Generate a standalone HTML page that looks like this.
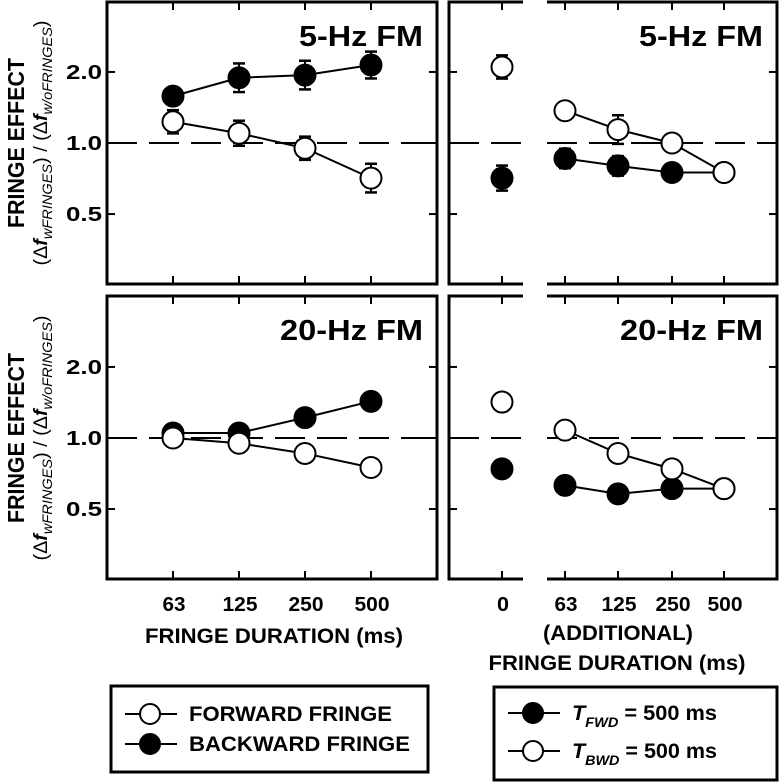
<!DOCTYPE html>
<html><head><meta charset="utf-8">
<style>
html,body{margin:0;padding:0;background:#fff;}
svg{display:block;font-family:"Liberation Sans",Arial,sans-serif;}
</style></head>
<body>
<svg id="chart" width="780" height="783" viewBox="0 0 780 783" xmlns="http://www.w3.org/2000/svg">
  <g transform="translate(24,143) rotate(-90)">
    <text x="0" y="0" text-anchor="middle" font-size="23" font-weight="bold" textLength="170" lengthAdjust="spacingAndGlyphs">FRINGE EFFECT</text>
    <text x="0" y="23" text-anchor="middle" font-size="19" textLength="245" lengthAdjust="spacingAndGlyphs">(Δ<tspan font-weight="bold" font-style="italic">f</tspan><tspan font-size="14" font-style="italic" dy="5">wFRINGES</tspan><tspan dy="-5">) / (Δ</tspan><tspan font-weight="bold" font-style="italic">f</tspan><tspan font-size="14" font-style="italic" dy="5">w/oFRINGES</tspan><tspan dy="-5">)</tspan></text>
  </g>
  <g transform="translate(24,438) rotate(-90)">
    <text x="0" y="0" text-anchor="middle" font-size="23" font-weight="bold" textLength="170" lengthAdjust="spacingAndGlyphs">FRINGE EFFECT</text>
    <text x="0" y="23" text-anchor="middle" font-size="19" textLength="245" lengthAdjust="spacingAndGlyphs">(Δ<tspan font-weight="bold" font-style="italic">f</tspan><tspan font-size="14" font-style="italic" dy="5">wFRINGES</tspan><tspan dy="-5">) / (Δ</tspan><tspan font-weight="bold" font-style="italic">f</tspan><tspan font-size="14" font-style="italic" dy="5">w/oFRINGES</tspan><tspan dy="-5">)</tspan></text>
  </g>
  <g id="plots"></g>
  <g font-weight="bold" font-size="20" text-anchor="middle">
    <text x="174" y="611" textLength="23" lengthAdjust="spacingAndGlyphs">63</text><text x="240" y="611" textLength="35" lengthAdjust="spacingAndGlyphs">125</text><text x="306" y="611" textLength="35" lengthAdjust="spacingAndGlyphs">250</text><text x="372" y="611" textLength="35" lengthAdjust="spacingAndGlyphs">500</text>
    <text x="503" y="611" textLength="12" lengthAdjust="spacingAndGlyphs">0</text><text x="566" y="611" textLength="23" lengthAdjust="spacingAndGlyphs">63</text><text x="619" y="611" textLength="35" lengthAdjust="spacingAndGlyphs">125</text><text x="673" y="611" textLength="35" lengthAdjust="spacingAndGlyphs">250</text><text x="725" y="611" textLength="35" lengthAdjust="spacingAndGlyphs">500</text>
  </g>
  <text x="274" y="643" text-anchor="middle" font-size="21" font-weight="bold" textLength="258" lengthAdjust="spacingAndGlyphs">FRINGE DURATION (ms)</text>
  <text x="618" y="640" text-anchor="middle" font-size="21" font-weight="bold" textLength="150" lengthAdjust="spacingAndGlyphs">(ADDITIONAL)</text>
  <text x="617" y="670" text-anchor="middle" font-size="21" font-weight="bold" textLength="257" lengthAdjust="spacingAndGlyphs">FRINGE DURATION (ms)</text>

  <g>
    <rect x="111" y="686" width="317" height="86" fill="#fff" stroke="#000" stroke-width="3"/>
    <g>
      <line x1="125" y1="714" x2="177" y2="714" stroke="#000" stroke-width="2"/>
      <circle cx="150" cy="714" r="10" fill="#fff" stroke="#000" stroke-width="2"/>
      <text x="189" y="721" font-size="21" font-weight="bold" textLength="203" lengthAdjust="spacingAndGlyphs">FORWARD FRINGE</text>
    </g>
    <g>
      <line x1="125" y1="744" x2="177" y2="744" stroke="#000" stroke-width="2"/>
      <circle cx="150" cy="744" r="10" fill="#000" stroke="#000" stroke-width="2"/>
      <text x="189" y="751" font-size="21" font-weight="bold" textLength="221" lengthAdjust="spacingAndGlyphs">BACKWARD FRINGE</text>
    </g>
  </g>
  <g>
    <rect x="494" y="687" width="283" height="93" fill="#fff" stroke="#000" stroke-width="3"/>
    <g>
      <line x1="508" y1="713" x2="560" y2="713" stroke="#000" stroke-width="2"/>
      <circle cx="533" cy="713" r="10" fill="#000" stroke="#000" stroke-width="2"/>
      <text x="572" y="720" font-size="21" font-weight="bold" textLength="145" lengthAdjust="spacingAndGlyphs"><tspan font-style="italic">T</tspan><tspan font-size="14" font-style="italic" dy="7">FWD</tspan><tspan dy="-7"> = 500 ms</tspan></text>
    </g>
    <g>
      <line x1="508" y1="751" x2="560" y2="751" stroke="#000" stroke-width="2"/>
      <circle cx="533" cy="751" r="10" fill="#fff" stroke="#000" stroke-width="2"/>
      <text x="572" y="758" font-size="21" font-weight="bold" textLength="145" lengthAdjust="spacingAndGlyphs"><tspan font-style="italic">T</tspan><tspan font-size="14" font-style="italic" dy="7">BWD</tspan><tspan dy="-7"> = 500 ms</tspan></text>
    </g>
  </g>
</svg>
<script>
// ---- data ----
const leftCategories = ["63","125","250","500"];
const rightCategories = ["0","63","125","250","500"];
const yTickValues = [0.5, 1.0, 2.0];
const yTickLabels = ["0.5","1.0","2.0"];
// error values are multiplicative factors (upper = v*f, lower = v/f); 0 = none
const top5Backward = [1.58, 1.89, 1.94, 2.14];
const top5BackwardErr = [1.05, 1.15, 1.15, 1.14];
const top5Forward = [1.23, 1.10, 0.95, 0.71];
const top5ForwardErr = [1.12, 1.13, 1.12, 1.15];
const top5Tfwd = [0.71, 0.86, 0.80, 0.75, 0.75];
const top5TfwdErr = [1.13, 1.10, 1.10, 0, 0];
const top5Tbwd = [2.10, 1.37, 1.14, 1.00, 0.75];
const top5TbwdErr = [1.12, 0, 1.15, 1.09, 1.07];
const bot20Backward = [1.05, 1.05, 1.22, 1.43];
const bot20Forward = [1.00, 0.95, 0.86, 0.75];
const bot20Tfwd = [0.74, 0.63, 0.58, 0.61, 0.61];
const bot20Tbwd = [1.42, 1.08, 0.86, 0.74, 0.61];

const NS = "http://www.w3.org/2000/svg";
const g = document.getElementById("plots");
function mk(tag, attrs, parent){const e=document.createElementNS(NS,tag);for(const k in attrs)e.setAttribute(k,attrs[k]);(parent||g).appendChild(e);return e;}

const leftX = i => 173 + i*66;
const rightXs = [502,565,618,672,724];
const rightX = i => rightXs[i];
function yScale(offset){ return v => 143 + offset - 236*Math.log10(v); }

function panelFrame(x1,x2,y1,y2,breakX,parent){
  if(breakX){
    mk("polyline",{points:`${breakX[0]},${y1} ${x1},${y1} ${x1},${y2} ${breakX[0]},${y2}`,fill:"none",stroke:"#000","stroke-width":3},parent);
    mk("polyline",{points:`${breakX[1]},${y1} ${x2},${y1} ${x2},${y2} ${breakX[1]},${y2}`,fill:"none",stroke:"#000","stroke-width":3},parent);
  } else {
    mk("rect",{x:x1,y:y1,width:x2-x1,height:y2-y1,fill:"none",stroke:"#000","stroke-width":3},parent);
  }
}

function drawPanel(opts){
  const p = mk("g",{});
  
  
  const ys = yScale(opts.off);
  const y1 = opts.y1, y2 = opts.y2;
  panelFrame(opts.x1,opts.x2,y1,y2,opts.breakX,p);
  opts.xs.forEach(x=>{
    mk("line",{x1:x,y1:y1,x2:x,y2:y1+8,stroke:"#000","stroke-width":2},p);
    mk("line",{x1:x,y1:y2,x2:x,y2:y2-8,stroke:"#000","stroke-width":2},p);
  });
  yTickValues.forEach((v,i)=>{
    const y = ys(v);
    mk("line",{x1:opts.x1,y1:y,x2:opts.x1+8,y2:y,stroke:"#000","stroke-width":2},p);
    mk("line",{x1:opts.x2,y1:y,x2:opts.x2-8,y2:y,stroke:"#000","stroke-width":2},p);
    if(opts.labels){
      const t = mk("text",{x:opts.x1-5,y:y+7,"text-anchor":"end","font-size":20,"font-weight":"bold",textLength:36,lengthAdjust:"spacingAndGlyphs"},p);
      t.textContent = yTickLabels[i];
      
      
    }
  });
  const refY = ys(1.0);
  if(opts.breakX){
    mk("line",{x1:opts.x1,y1:refY,x2:opts.breakX[0],y2:refY,stroke:"#000","stroke-width":2,"stroke-dasharray":"30 12"},p);
    mk("line",{x1:opts.breakX[1],y1:refY,x2:opts.x2,y2:refY,stroke:"#000","stroke-width":2,"stroke-dasharray":"30 12"},p);
  } else {
    mk("line",{x1:opts.x1,y1:refY,x2:opts.x2,y2:refY,stroke:"#000","stroke-width":2,"stroke-dasharray":"30 12"},p);
  }
  const tt = mk("text",{x:opts.x2-14,y:y1+44,"text-anchor":"end","font-size":29,"font-weight":"bold",textLength:opts.titleW,lengthAdjust:"spacingAndGlyphs"},p);
  tt.textContent = opts.title;
  
  
  opts.series.forEach(s=>{
    const sg = mk("g",{},p);
    
    
    const idx = s.vals.map((v,i)=>i).filter(i=>i>=s.lineFrom);
    mk("polyline",{points:idx.map(i=>`${s.xf(i)},${ys(s.vals[i])}`).join(" "),fill:"none",stroke:"#000","stroke-width":2},sg);
    s.vals.forEach((v,i)=>{
      const cx = s.xf(i), cy = ys(v);
      if(s.err && s.err[i]>0){
        const hi = ys(v * s.err[i]), lo = ys(v / s.err[i]);
        mk("line",{x1:cx,y1:hi,x2:cx,y2:lo,stroke:"#000","stroke-width":2},sg);
        mk("line",{x1:cx-6,y1:hi,x2:cx+6,y2:hi,stroke:"#000","stroke-width":2.5},sg);
        mk("line",{x1:cx-6,y1:lo,x2:cx+6,y2:lo,stroke:"#000","stroke-width":2.5},sg);
      }
      const c = mk("circle",{cx:cx,cy:cy,r:10.5,fill:s.fill,stroke:"#000","stroke-width":2},sg);
      
      
    });
  });
}

drawPanel({name:"panel-5hz-fringe",x1:107,x2:437,y1:2,y2:284,off:0,xs:leftCategories.map((c,i)=>leftX(i)),labels:true,title:"5-Hz FM",titleW:124,
  series:[
    {name:"backward-fringe-5hz",vals:top5Backward,err:top5BackwardErr,fill:"#000",xf:leftX,lineFrom:0},
    {name:"forward-fringe-5hz",vals:top5Forward,err:top5ForwardErr,fill:"#fff",xf:leftX,lineFrom:0}
  ]});
drawPanel({name:"panel-5hz-additional",x1:449,x2:777,y1:2,y2:284,off:0,breakX:[523,547],xs:rightCategories.map((c,i)=>rightX(i)),labels:false,title:"5-Hz FM",titleW:124,
  series:[
    {name:"tfwd-5hz",vals:top5Tfwd,err:top5TfwdErr,fill:"#000",xf:rightX,lineFrom:1},
    {name:"tbwd-5hz",vals:top5Tbwd,err:top5TbwdErr,fill:"#fff",xf:rightX,lineFrom:1}
  ]});
drawPanel({name:"panel-20hz-fringe",x1:107,x2:437,y1:296,y2:579,off:295,xs:leftCategories.map((c,i)=>leftX(i)),labels:true,title:"20-Hz FM",titleW:143,
  series:[
    {name:"backward-fringe-20hz",vals:bot20Backward,err:null,fill:"#000",xf:leftX,lineFrom:0},
    {name:"forward-fringe-20hz",vals:bot20Forward,err:null,fill:"#fff",xf:leftX,lineFrom:0}
  ]});
drawPanel({name:"panel-20hz-additional",x1:449,x2:777,y1:296,y2:579,off:295,breakX:[523,547],xs:rightCategories.map((c,i)=>rightX(i)),labels:false,title:"20-Hz FM",titleW:143,
  series:[
    {name:"tfwd-20hz",vals:bot20Tfwd,err:null,fill:"#000",xf:rightX,lineFrom:1},
    {name:"tbwd-20hz",vals:bot20Tbwd,err:null,fill:"#fff",xf:rightX,lineFrom:1}
  ]});
</script>
</body></html>
